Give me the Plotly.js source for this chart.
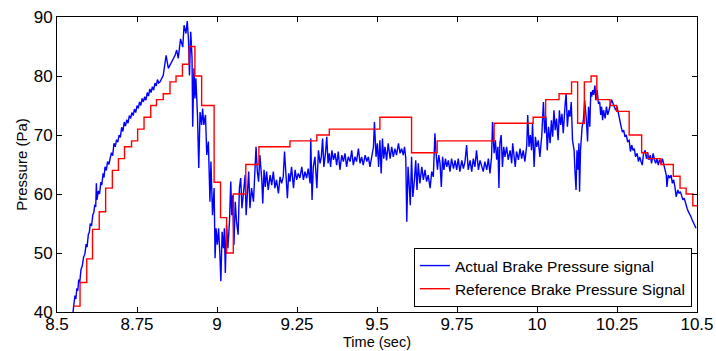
<!DOCTYPE html>
<html>
<head>
<meta charset="utf-8">
<script src="https://cdn.plot.ly/plotly-3.0.1.min.js"></script>
<style>
  html, body { margin: 0; padding: 0; background: #ffffff; }
  #chart { width: 716px; height: 351px; }
</style>
</head>
<body>
<div id="chart"></div>
<script>
// Actual brake pressure signal
const actualTime = [
  8.550, 8.553, 8.556, 8.559, 8.562, 8.565, 8.568, 8.571, 8.575, 8.579,
  8.583, 8.587, 8.591, 8.594, 8.598, 8.601, 8.604, 8.608, 8.612, 8.615,
  8.618, 8.621, 8.623, 8.625, 8.629, 8.633, 8.637, 8.640, 8.644, 8.647,
  8.650, 8.654, 8.658, 8.662, 8.666, 8.670, 8.674, 8.678, 8.682, 8.686,
  8.690, 8.694, 8.698, 8.702, 8.706, 8.710, 8.714, 8.718, 8.722, 8.726,
  8.730, 8.734, 8.738, 8.742, 8.746, 8.750, 8.754, 8.758, 8.762, 8.766,
  8.770, 8.774, 8.778, 8.782, 8.786, 8.790, 8.794, 8.798, 8.802, 8.806,
  8.810, 8.814, 8.818, 8.822,
  8.832, 8.841, 8.848, 8.858, 8.869, 8.874, 8.879, 8.886, 8.893, 8.897,
  8.903, 8.907, 8.911, 8.914, 8.918, 8.922, 8.924, 8.928, 8.931, 8.934,
  8.939, 8.943, 8.947, 8.952, 8.955, 8.959, 8.964, 8.968, 8.973, 8.978,
  8.981, 8.986, 8.991, 8.994, 8.997, 9.001, 9.005, 9.009, 9.012, 9.016,
  9.020, 9.023, 9.026, 9.030, 9.034, 9.039, 9.043, 9.046, 9.049, 9.053,
  9.057, 9.061, 9.066, 9.070, 9.074, 9.078, 9.082, 9.088, 9.091, 9.095,
  9.099, 9.103, 9.108, 9.114, 9.119, 9.122, 9.126, 9.130, 9.134,
  9.140, 9.143, 9.147, 9.151, 9.155, 9.160, 9.166, 9.171, 9.176, 9.181,
  9.186, 9.192, 9.197, 9.202, 9.207, 9.211, 9.216, 9.220, 9.224, 9.228,
  9.233, 9.239, 9.244, 9.249, 9.254, 9.259, 9.265, 9.270, 9.275, 9.280,
  9.285, 9.291, 9.293, 9.297, 9.301, 9.306, 9.312, 9.317, 9.322, 9.326,
  9.330, 9.334, 9.339, 9.343, 9.347, 9.351, 9.355, 9.359, 9.364, 9.369,
  9.374, 9.379, 9.384, 9.390, 9.395, 9.400, 9.405, 9.410, 9.416, 9.421,
  9.426, 9.431, 9.436, 9.442, 9.447, 9.452, 9.457, 9.463, 9.468, 9.473,
  9.478, 9.483, 9.489, 9.492,
  9.497, 9.501, 9.505, 9.509, 9.513, 9.517, 9.521, 9.525, 9.530, 9.535,
  9.541, 9.546, 9.551, 9.556, 9.561, 9.567, 9.572, 9.577, 9.582, 9.586,
  9.590, 9.593, 9.597, 9.601, 9.604, 9.608, 9.612, 9.617, 9.621, 9.625,
  9.629, 9.634, 9.640, 9.645, 9.650, 9.655, 9.660, 9.666, 9.671, 9.676,
  9.681, 9.684, 9.689, 9.693, 9.697, 9.701, 9.705, 9.709, 9.714, 9.718,
  9.723, 9.728, 9.733, 9.739, 9.744, 9.749, 9.754, 9.759, 9.765, 9.770,
  9.775, 9.780, 9.785, 9.791, 9.796, 9.801, 9.806, 9.811, 9.817, 9.822,
  9.832, 9.837, 9.843, 9.848, 9.853, 9.858, 9.861, 9.866, 9.870, 9.874,
  9.878, 9.881, 9.884, 9.888, 9.892, 9.896, 9.900, 9.905, 9.910, 9.916,
  9.921, 9.924, 9.928, 9.932, 9.936, 9.942, 9.947, 9.952, 9.957, 9.962,
  9.968, 9.971, 9.975, 9.979, 9.983, 9.986, 9.991, 9.995, 9.999, 10.004,
  10.009, 10.015, 10.020, 10.024, 10.028, 10.032, 10.036, 10.041, 10.045, 10.049,
  10.053, 10.057, 10.061, 10.066, 10.070, 10.074, 10.078, 10.082, 10.088, 10.091,
  10.095, 10.099, 10.103, 10.107, 10.111, 10.116, 10.119, 10.122, 10.125, 10.128,
  10.131, 10.133, 10.136, 10.141, 10.145, 10.149,
  10.154, 10.158, 10.161, 10.165, 10.168, 10.171, 10.174, 10.177, 10.181, 10.184,
  10.188, 10.192, 10.196, 10.199, 10.202, 10.205, 10.208, 10.213, 10.217, 10.221,
  10.225, 10.229, 10.233, 10.238, 10.242, 10.246, 10.250, 10.254, 10.258, 10.263,
  10.267, 10.271, 10.275, 10.279, 10.283, 10.288, 10.292, 10.296, 10.300, 10.304,
  10.308, 10.313, 10.317, 10.321, 10.325, 10.329, 10.333, 10.338, 10.342, 10.346,
  10.350, 10.354, 10.358, 10.363, 10.367, 10.371, 10.375, 10.379, 10.383, 10.388,
  10.392, 10.396, 10.400, 10.404, 10.406, 10.410, 10.415, 10.419, 10.423, 10.427,
  10.431, 10.435, 10.440, 10.444, 10.448, 10.452, 10.456, 10.460, 10.465, 10.469,
  10.473, 10.477, 10.481, 10.485, 10.490, 10.494, 10.497
];
const actualPressure = [
  40.0, 41.5, 42.8, 42.2, 44.0, 43.6, 45.5, 45.0, 47.2, 47.8,
  49.3, 49.8, 51.5, 51.0, 53.2, 53.5, 55.0, 54.6, 56.5, 56.8,
  58.2, 57.8, 61.8, 59.0, 60.5, 60.0, 62.0, 61.5, 63.5, 62.8,
  64.6, 64.0, 65.5, 65.0, 66.2, 67.0, 66.5, 68.6, 68.0, 69.2,
  68.8, 70.0, 69.6, 71.3, 70.6, 72.2, 71.5, 72.6, 72.0, 73.3,
  72.8, 73.8, 73.3, 74.4, 73.8, 75.0, 74.5, 75.6, 75.0, 76.2,
  75.6, 76.5, 75.9, 77.2, 76.6, 77.8, 77.2, 78.2, 77.6, 78.8,
  78.3, 79.4, 78.8, 79.0,
  80.1, 83.5, 81.3, 82.4, 83.5, 84.4, 83.0, 86.3, 84.9, 88.6,
  87.2, 89.3, 86.1, 80.1, 87.5, 83.0, 71.4, 81.3, 76.2, 79.6,
  73.4, 64.4, 73.9, 71.7, 74.5, 71.7, 73.4, 66.6, 68.9, 58.7,
  65.5, 56.4, 61.0, 49.1, 54.2, 51.4, 54.2, 49.7, 45.2, 53.6,
  50.8, 54.2, 46.6, 54.8, 50.8, 55.3, 62.1, 56.4, 59.8, 51.4,
  58.7, 55.3, 53.1, 61.0, 62.7, 57.6, 59.8, 63.2, 56.4, 61.0,
  63.8, 57.6, 61.0, 58.7, 64.4, 68.0, 63.8, 62.1, 66.6,
  62.4, 58.4, 64.1, 61.2, 63.8, 60.7, 63.2, 61.5, 63.8, 61.0,
  62.4, 60.1, 62.9, 61.8, 62.9, 67.2, 61.8, 59.3, 63.5, 62.1,
  64.6, 61.0, 64.1, 62.4, 63.5, 62.7, 64.6, 62.4, 63.8, 62.7,
  64.3, 61.8, 69.4, 59.0, 64.6, 66.3, 61.0, 67.4, 65.2, 66.3,
  69.4, 64.6, 66.9, 69.7, 65.2, 66.9, 64.6, 67.4, 65.8, 66.9,
  64.9, 67.2, 64.1, 66.6, 65.5, 66.9, 64.6, 66.3, 65.5, 67.4,
  64.9, 66.3, 65.5, 67.7, 65.2, 66.3, 64.9, 66.6, 65.5, 66.3,
  64.6, 66.0, 68.0, 72.2,
  66.3, 68.6, 64.6, 69.1, 63.5, 69.4, 66.0, 68.0, 65.7, 68.6,
  66.0, 68.0, 66.3, 67.7, 66.6, 68.6, 66.9, 67.7, 66.6, 68.0,
  66.0, 55.3, 64.6, 61.2, 58.1, 66.3, 59.5, 62.4, 65.7, 60.7,
  65.2, 61.8, 64.6, 62.4, 64.1, 62.1, 63.2, 61.0, 63.8, 62.9,
  70.3, 67.4, 64.1, 66.6, 65.2, 61.2, 66.3, 64.1, 66.0, 64.6,
  65.7, 63.8, 66.0, 64.3, 65.7, 64.1, 66.0, 63.8, 65.7, 64.3,
  65.5, 68.3, 64.1, 65.7, 63.8, 66.0, 64.6, 67.4, 64.1, 65.7,
  63.8, 65.5, 64.1, 66.0, 63.5, 66.3, 72.2, 66.9, 69.1, 65.8,
  68.0, 61.0, 68.6, 70.0, 64.6, 68.0, 66.3, 68.0, 65.8, 67.4,
  65.2, 68.6, 66.3, 64.6, 67.2, 65.8, 67.7, 66.0, 67.4, 65.5,
  68.3, 73.4, 68.0, 70.0, 67.4, 72.0, 64.6, 69.7, 68.0, 69.1,
  66.3, 70.0, 75.6, 70.3, 73.1, 67.4, 71.4, 68.6, 72.5, 69.7,
  74.2, 70.8, 72.8, 69.1, 74.2, 71.7, 73.6, 70.3, 75.3, 77.0,
  71.4, 74.2, 73.1, 75.6, 69.1, 67.4, 63.5, 60.7, 67.4, 64.1,
  68.6, 60.4, 67.4, 71.4, 72.5, 75.9,
  72.8, 68.9, 74.8, 71.4, 77.3, 76.5, 77.6, 76.8, 78.4, 75.9,
  77.6, 75.3, 75.6, 73.4, 74.8, 72.5, 74.2, 72.8, 74.8, 73.4,
  74.2, 75.1, 76.0, 75.3, 74.8, 74.2, 74.8, 73.6, 72.2, 71.4,
  70.5, 70.8, 69.7, 70.0, 68.9, 69.1, 67.2, 68.3, 67.4, 67.7,
  66.3, 66.9, 65.5, 66.3, 65.5, 64.9, 66.9, 67.4, 66.0, 66.9,
  65.8, 66.6, 65.2, 66.9, 65.8, 65.2, 66.0, 64.9, 65.8, 65.2,
  66.0, 64.9, 64.3, 63.2, 61.2, 63.2, 62.7, 63.2, 61.8, 62.4,
  61.2, 59.5, 60.7, 60.1, 60.4, 59.5, 59.0, 59.3, 58.1, 57.6,
  57.0, 56.7, 56.2, 55.6, 55.0, 54.5, 54.2
];

// Reference brake pressure signal (step changes)
const refTime = [
  8.551, 8.572, 8.593, 8.611, 8.632, 8.652, 8.673, 8.692, 8.711, 8.733,
  8.752, 8.772, 8.793, 8.811, 8.832, 8.853, 8.872, 8.892, 8.913, 8.931,
  8.952, 8.991, 9.011, 9.030, 9.051, 9.090, 9.131, 9.228, 9.312, 9.351,
  9.509, 9.608, 9.688, 9.866, 9.988, 10.027, 10.069, 10.108, 10.127, 10.148,
  10.169, 10.187, 10.228, 10.249, 10.288, 10.327, 10.346, 10.387, 10.426, 10.447,
  10.466, 10.487, 10.500
];
const refPressure = [
  41, 45, 49, 54, 57, 61, 64, 66, 68, 69,
  71, 73, 75, 76, 77, 79, 80, 82, 85, 80,
  75, 62, 56, 50, 60, 65, 68, 69, 70, 71,
  73, 67, 69, 72, 73, 76, 77, 79, 72, 79,
  80, 76, 75, 74, 70, 67, 66, 65, 63, 61,
  60, 58, 58
];

const xTickVals = [8.5, 8.75, 9, 9.25, 9.5, 9.75, 10, 10.25, 10.5];
const xTickText = ['8.5', '8.75', '9', '9.25', '9.5', '9.75', '10', '10.25', '10.5'];
const yTickVals = [40, 50, 60, 70, 80, 90];
const yTickText = ['40', '50', '60', '70', '80', '90'];
const seriesNames = ['Actual Brake Pressure signal', 'Reference Brake Pressure Signal'];

const FONT = 'Liberation Sans, Arial, sans-serif';

const traces = [
  {
    x: actualTime, y: actualPressure, type: 'scatter', mode: 'lines',
    name: seriesNames[0],
    line: { color: '#0000ff', width: 1.4 }
  },
  {
    x: refTime, y: refPressure, type: 'scatter', mode: 'lines',
    name: seriesNames[1],
    line: { color: '#ff0000', width: 1.4, shape: 'hv' }
  }
];

const axisCommon = {
  showgrid: false, zeroline: false, showline: true, linecolor: '#000000', linewidth: 1,
  mirror: 'allticks', ticks: 'inside', ticklen: 5, tickcolor: '#000000', tickwidth: 1,
  tickfont: { family: FONT, size: 17, color: '#000000' }
};

const layout = {
  width: 716, height: 351,
  margin: { l: 57, r: 19, t: 17, b: 39 },
  paper_bgcolor: '#ffffff', plot_bgcolor: '#ffffff',
  showlegend: true,
  xaxis: Object.assign({}, axisCommon, {
    range: [8.5, 10.5], tickmode: 'array', tickvals: xTickVals, ticktext: xTickText,
    ticklabelstandoff: -3,
    title: { text: 'Time (sec)', font: { family: FONT, size: 14.5, color: '#000000' }, standoff: 3 }
  }),
  yaxis: Object.assign({}, axisCommon, {
    range: [40, 90], tickmode: 'array', tickvals: yTickVals, ticktext: yTickText,
    title: { text: 'Pressure (Pa)', font: { family: FONT, size: 15, color: '#000000' }, standoff: 2 }
  }),
  legend: {
    x: 0.992, xanchor: 'right', y: 0.017, yanchor: 'bottom',
    bgcolor: '#ffffff', bordercolor: '#000000', borderwidth: 1,
    font: { family: FONT, size: 15.5, color: '#000000' },
    tracegroupgap: 0, itemwidth: 30
  }
};

Plotly.newPlot('chart', traces, layout, { displayModeBar: false, staticPlot: true });
</script>
</body>
</html>
